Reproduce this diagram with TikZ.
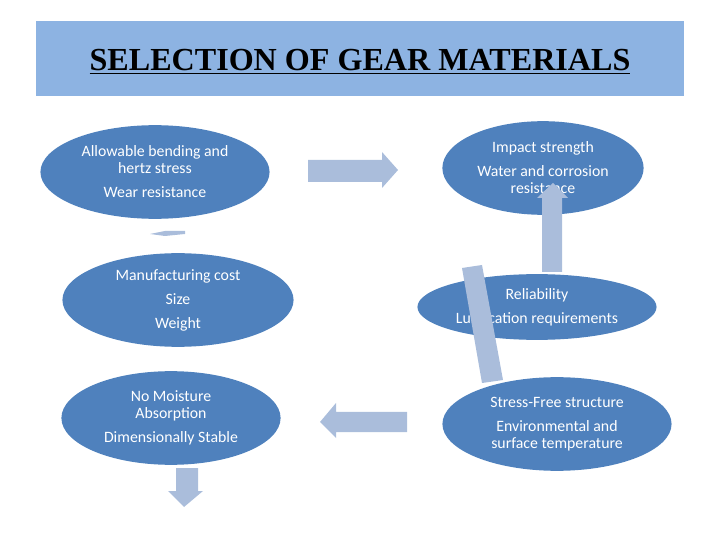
\documentclass[tikz,border=0pt]{standalone}
\usepackage{fontspec}
\setmainfont{Liberation Serif}
\newfontfamily\bodyfont{Carlito}
\usepackage{xcolor}
\usetikzlibrary{shapes.geometric}

\definecolor{bannerblue}{HTML}{8DB3E2}
\definecolor{ovalblue}{HTML}{4F81BD}
\definecolor{arrowblue}{HTML}{AABDDB}

\def\px{0.8504pt} % one unit of the grid, as a length

\begin{document}
\begin{tikzpicture}[
    x=0.03cm, y=-0.03cm,
    oval/.style={ellipse, fill=ovalblue, text=white, align=center, inner sep=0pt,
                 font=\bodyfont\fontsize{13.5}{14.5}\selectfont},
    blockarrow/.style={fill=arrowblue},
]
\useasboundingbox (0,0) rectangle (720,540);

%------------------------------------------------------------
% Title banner
%------------------------------------------------------------
\fill[bannerblue] (36,21) rectangle (684,96);
\node[font=\bfseries\fontsize{27.4}{30}\selectfont, anchor=base] (title) at (360,71)
    {\underline{SELECTION OF GEAR MATERIALS}};

%============================================================
%  Ovals (centre, full width, full height)
%============================================================
\node[oval, minimum width=230*\px, minimum height=94*\px] (bend) at (155,172)
    {Allowable bending and\\hertz stress\\[6pt]Wear resistance};
\node[oval, minimum width=202*\px, minimum height=94*\px] (impact) at (543,168)
    {Impact strength\\[6pt]Water and corrosion\\resistance};
\node[oval, minimum width=232*\px, minimum height=94*\px] (cost) at (178,300)
    {Manufacturing cost\\[6pt]Size\\[6pt]Weight};
\node[oval, minimum width=240*\px, minimum height=66*\px] (rely) at (537,307)
    {Reliability\\[6pt]Lubrication requirements};
\node[oval, minimum width=220*\px, minimum height=94*\px] (moist) at (171,418)
    {No Moisture\\Absorption\\[6pt]Dimensionally Stable};

%============================================================
%  Block arrows
%============================================================
% right, between top ovals
\fill[blockarrow] (308,160) -- (382,160) -- (382,152) -- (398,170)
    -- (382,188) -- (382,182) -- (308,182) -- cycle;
% up, into impact oval
\fill[blockarrow] (542,272) -- (542,198) -- (537,198) -- (553,183)
    -- (568,198) -- (562,198) -- (562,272) -- cycle;
% tilted bar over reliability oval
\fill[blockarrow] (462,268) -- (482,265) -- (503,380) -- (482,383) -- cycle;
% left, between bottom ovals
\fill[blockarrow] (407,412) -- (336,412) -- (336,403) -- (320,422)
    -- (336,438) -- (336,432) -- (407,432) -- cycle;
% down, below moisture oval
\fill[blockarrow] (176,468) -- (198,468) -- (198,491) -- (203,491)
    -- (184,507) -- (168,491) -- (176,491) -- cycle;
% flattened arrow under bending oval
\fill[blockarrow] (150,234) -- (165,231) -- (185,231) -- (185,234)
    -- (165,236) -- cycle;

% last oval sits over the end of the tilted bar
\node[oval, minimum width=230*\px, minimum height=94*\px] (stress) at (557,424)
    {Stress-Free structure\\[6pt]Environmental and\\surface temperature};

\end{tikzpicture}
\end{document}
